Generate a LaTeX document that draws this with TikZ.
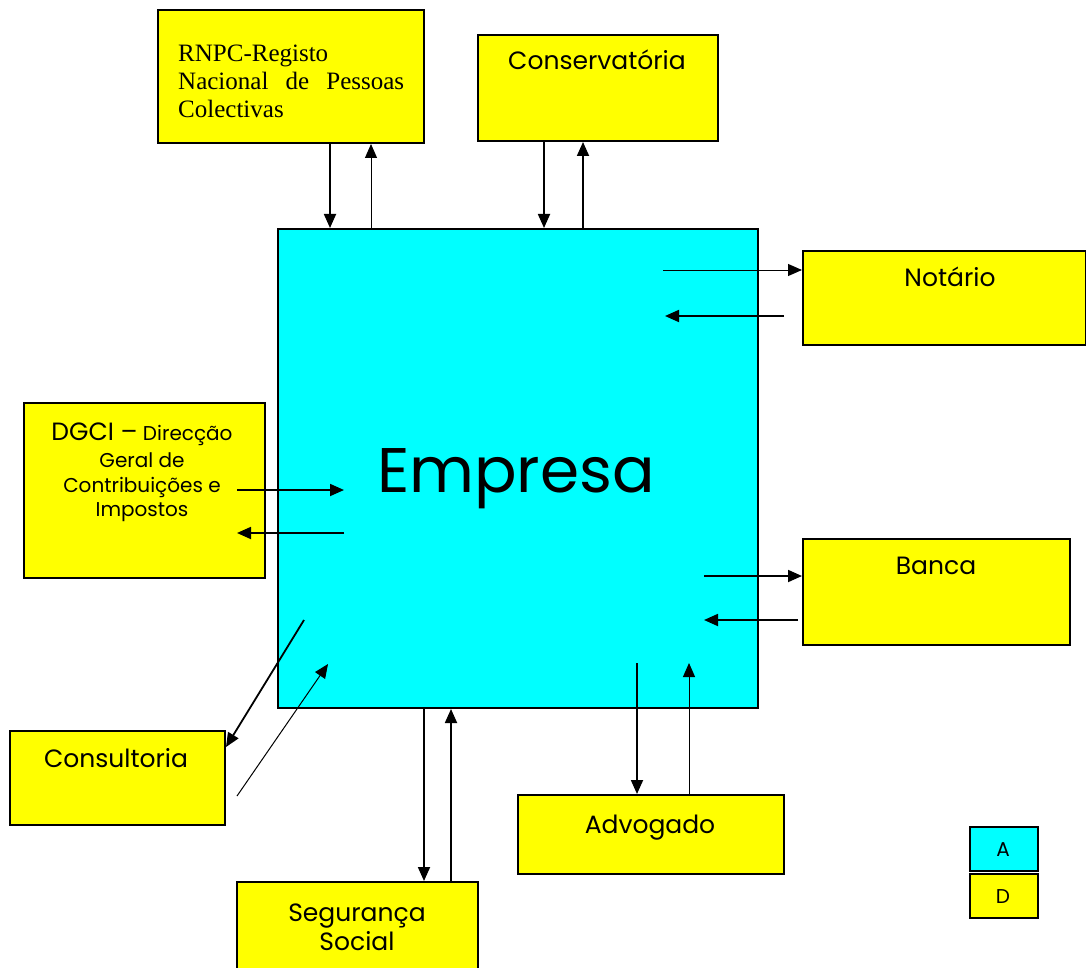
\documentclass[tikz,border=0pt]{standalone}
\usepackage{fontspec}
\setmainfont{Poppins}
\newfontfamily\timesf{Liberation Serif}
\usetikzlibrary{arrows.meta}
\definecolor{boxyellow}{RGB}{255,255,0}
\definecolor{boxcyan}{RGB}{0,255,255}
\begin{document}
\begin{tikzpicture}[x=1pt,y=-1pt,
  box/.style={draw=black, line width=2pt, fill=boxyellow, anchor=north west, inner sep=0pt},
  lbl/.style={inner sep=0pt, anchor=base, font=\fontsize{25}{29}\selectfont},
  small/.style={inner sep=0pt, anchor=base, font=\fontsize{20}{24}\selectfont},
  rlbl/.style={inner sep=0pt, anchor=base west, font=\timesf\fontsize{25}{28}\selectfont},
  thickarr/.style={line width=1.8pt, -{Triangle[length=14pt,width=12pt]}},
  thinarr/.style={line width=1pt, -{Triangle[length=14pt,width=12pt]}}]
\useasboundingbox (0,0) rectangle (1086,968);
% boxes
\node[box, fill=boxcyan, minimum width=480, minimum height=479] (emp) at (277,228) {};
\node[box, minimum width=266, minimum height=133] (rnpc) at (157,9) {};
\node[box, minimum width=240, minimum height=106] (cons) at (477,34) {};
\node[box, minimum width=283, minimum height=94] (not) at (802,250) {};
\node[box, minimum width=241, minimum height=175] (dgci) at (23,402) {};
\node[box, minimum width=267, minimum height=106] (banca) at (802,538) {};
\node[box, minimum width=215, minimum height=94] (consul) at (9,730) {};
\node[box, minimum width=241, minimum height=100] (seg) at (236,881) {};
\node[box, minimum width=266, minimum height=79] (adv) at (517,794) {};
\node[box, fill=boxcyan, minimum width=68, minimum height=44] (legA) at (969,826) {};
\node[box, minimum width=68, minimum height=44] (legD) at (969,873) {};
% texts
\node[inner sep=0pt, anchor=base, font=\fontsize{63}{72}\selectfont] (tEmp) at (516,492) {Empresa};
\node[rlbl] (tR1) at (178,62) {RNPC-Registo};
\node[rlbl] (tR2) at (178,90) {\makebox[226pt][s]{Nacional de Pessoas}};
\node[rlbl] (tR3) at (178,118) {Colectivas};
\node[lbl] (tCons) at (597,70) {Conservatória};
\node[lbl] (tNot) at (950,286) {Notário};
\node[lbl] (tBanca) at (936,574) {Banca};
\node[lbl] (tConsul) at (116,767) {Consultoria};
\node[lbl] (tAdv) at (650,833) {Advogado};
\node[lbl] (tSeg1) at (357,921) {Segurança};
\node[lbl] (tSeg2) at (357,950) {Social};
\node[small] (tD1) at (142,440) {{\fontsize{25}{29}\selectfont DGCI –} Direcção};
\node[small] (tD2) at (142,467) {Geral de};
\node[small] (tD3) at (142,492) {Contribuições e};
\node[small] (tD4) at (142,516) {Impostos};
\node[small] (tA) at (1003,856) {A};
\node[small] (tDD) at (1003,903) {D};
% free ends inside Empresa
\coordinate (nA) at (663,270);
\coordinate (nB) at (665,316);
\coordinate (dA) at (344,490);
\coordinate (dB) at (344,533);
\coordinate (bA) at (704,576);
\coordinate (bB) at (704,620);
\coordinate (aA) at (637,663);
\coordinate (aB) at (689,663);
\coordinate (cA) at (304,620);
\coordinate (cB) at (328,664);
\coordinate (cC) at (237,796);
\coordinate (cT) at (224,747);
\coordinate (dgA) at (237,490);
\coordinate (dgB) at (237,533);
\coordinate (nC) at (784,316);
\coordinate (bC) at (798,620);
% arrows
\draw[thickarr] (330,0 |- rnpc.south) -- (330,0 |- emp.north);
\draw[thinarr] (371,0 |- emp.north) -- (371,0 |- rnpc.south);
\draw[thickarr] (544,0 |- cons.south) -- (544,0 |- emp.north);
\draw[thickarr] (583,0 |- emp.north) -- (583,0 |- cons.south);
\draw[thinarr] (nA) -- (not.west |- nA);
\draw[thickarr] (nC) -- (nB);
\draw[thickarr] (dgA) -- (dA);
\draw[thickarr] (dB) -- (dgB);
\draw[thickarr] (bA) -- (banca.west |- bA);
\draw[thickarr] (bC) -- (bB);
\draw[thickarr] (aA) -- (aA |- adv.north);
\draw[thinarr] (aB |- adv.north) -- (aB);
\draw[thickarr] (424,0 |- emp.south) -- (424,0 |- seg.north);
\draw[thickarr] (451,0 |- seg.north) -- (451,0 |- emp.south);
\draw[thickarr] (cA) -- (consul.east |- cT);
\draw[thinarr] (cC) -- (cB);
\end{tikzpicture}
\end{document}
